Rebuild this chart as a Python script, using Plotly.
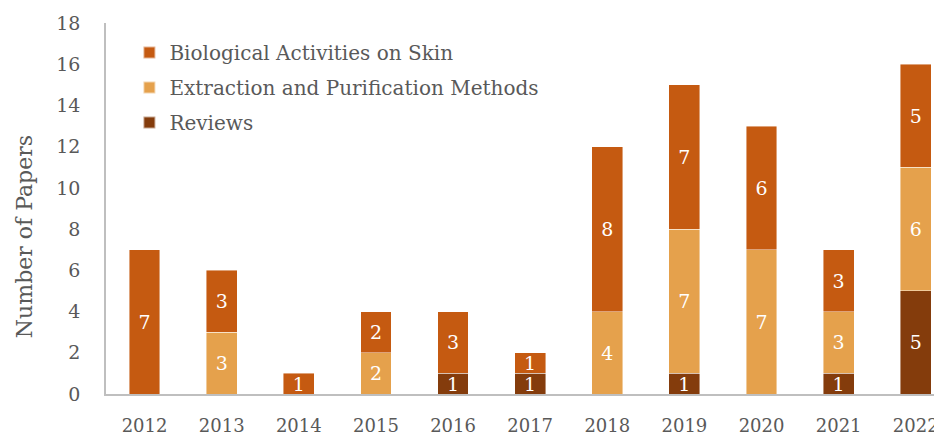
import plotly.graph_objects as go

years = ["2012", "2013", "2014", "2015", "2016", "2017", "2018", "2019", "2020", "2021", "2022"]
reviews = [0, 0, 0, 0, 1, 1, 0, 1, 0, 1, 5]
extraction = [0, 3, 0, 2, 0, 0, 4, 7, 7, 3, 6]
biological = [7, 3, 1, 2, 3, 1, 8, 7, 6, 3, 5]

series = [
    ("Reviews", reviews, "#843C0C", 3),
    ("Extraction and Purification Methods", extraction, "#E5A14C", 2),
    ("Biological Activities on Skin", biological, "#C55A11", 1),
]

FONT = "DejaVu Serif"
fig = go.Figure()
for name, vals, color, rank in series:
    fig.add_trace(go.Bar(
        x=years,
        y=[v if v else None for v in vals],
        name=name,
        legendgroup=name,
        legendrank=rank,
        marker=dict(color=color, line=dict(color="rgba(255,255,255,0.55)", width=0.8)),
        text=[str(v) if v else "" for v in vals],
        textposition="inside",
        insidetextanchor="middle",
        constraintext="none",
        textangle=0,
        textfont=dict(color="white", size=19, family=FONT),
        width=0.4,
    ))

fig.update_layout(
    barmode="stack",
    width=934, height=428,
    margin=dict(l=98, r=0, t=15, b=42),
    plot_bgcolor="white", paper_bgcolor="white",
    font=dict(family=FONT, color="#595959", size=19),
    showlegend=True,
    legend=dict(
        traceorder="grouped",
        x=0.028, y=0.973, xanchor="left", yanchor="top",
        font=dict(size=20, color="#595959", family=FONT),
        bgcolor="rgba(0,0,0,0)",
        itemsizing="constant",
        tracegroupgap=6,
        itemwidth=30,
    ),
    xaxis=dict(
        type="category",
        range=[-0.5, 10.34],
        showline=True, linecolor="#BFBFBF", linewidth=1.5,
        ticks="", showgrid=False,
        ticklabelstandoff=15,
        automargin=False,
        tickfont=dict(size=18, color="#595959", family=FONT),
    ),
    yaxis=dict(
        range=[0, 18], dtick=2, tick0=0,
        showline=True, linecolor="#BFBFBF", linewidth=1.5,
        ticks="", showgrid=False, zeroline=False,
        ticklabelstandoff=20,
        automargin=False,
        tickfont=dict(size=19, color="#595959", family=FONT),
    ),
    annotations=[dict(
        text="Number of Papers", textangle=-90,
        xref="paper", yref="paper", x=-0.098, y=0.423,
        xanchor="center", yanchor="middle", showarrow=False,
        font=dict(size=22, color="#595959", family=FONT),
    )],
)

fig.write_html("out.html")
